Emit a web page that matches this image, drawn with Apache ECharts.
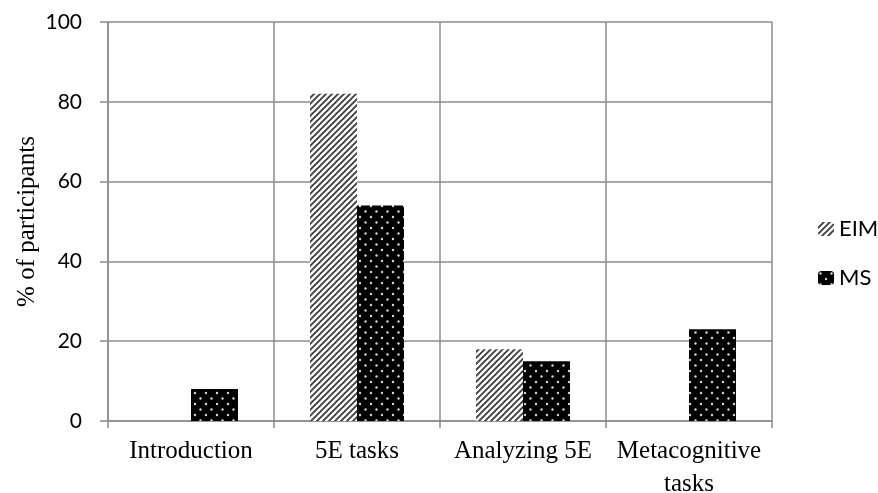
<!DOCTYPE html>
<html>
<head>
<meta charset="utf-8">
<script src="https://cdn.jsdelivr.net/npm/echarts@6/dist/echarts.min.js"></script>
<style>
  html, body { margin: 0; padding: 0; background: #fff; }
  #chart { width: 878px; height: 493px; }
</style>
</head>
<body>
<div id="chart"></div>
<script>
// Share of participants per course phase
const categories = ['Introduction', '5E tasks', 'Analyzing 5E', 'Metacognitive\ntasks'];
const eimValues = [0, 82, 18, 0];
const msValues = [8, 54, 15, 23];
const yTicks = { min: 0, max: 100, interval: 20 };

// Diagonal hatch fill
function hatchPattern() {
  const c = document.createElement('canvas');
  c.width = 6; c.height = 6;
  const g = c.getContext('2d');
  g.fillStyle = '#ffffff';
  g.fillRect(0, 0, 6, 6);
  g.strokeStyle = '#3a3a3a';
  g.lineWidth = 1.8;
  g.beginPath();
  g.moveTo(-1, 7); g.lineTo(7, -1);
  g.moveTo(-4, 4); g.lineTo(4, -4);
  g.moveTo(2, 10); g.lineTo(10, 2);
  g.stroke();
  return c;
}

// Black fill with staggered white dots
function dotPattern() {
  const c = document.createElement('canvas');
  c.width = 11; c.height = 11;
  const g = c.getContext('2d');
  g.fillStyle = '#000000';
  g.fillRect(0, 0, 11, 11);
  g.fillStyle = '#d8d8d8';
  g.beginPath(); g.arc(2.5, 2.5, 1.2, 0, Math.PI * 2); g.fill();
  g.beginPath(); g.arc(8, 8, 1.2, 0, Math.PI * 2); g.fill();
  return c;
}

const hatch = { image: hatchPattern(), repeat: 'repeat' };
const dots = { image: dotPattern(), repeat: 'repeat' };

const chart = echarts.init(document.getElementById('chart'), null, { renderer: 'canvas' });
const axisGray = '#8c8c8c';

chart.setOption({
  animation: false,
  backgroundColor: '#ffffff',
  grid: { left: 108, right: 106, top: 22, bottom: 72, containLabel: false, outerBoundsMode: 'none' },
  legend: {
    orient: 'vertical',
    left: 813,
    top: 213,
    itemGap: 27,
    itemWidth: 16,
    itemHeight: 14,
    textStyle: { fontFamily: 'Lato', fontSize: 22, color: '#000' },
    data: ['EIM', 'MS']
  },
  xAxis: {
    type: 'category',
    data: categories,
    boundaryGap: true,
    axisLine: { lineStyle: { color: axisGray, width: 1.5 } },
    axisTick: { show: true, length: 7, lineStyle: { color: axisGray, width: 1.5 } },
    splitLine: { show: true, lineStyle: { color: axisGray, width: 1.5 } },
    axisLabel: {
      fontFamily: 'Liberation Serif',
      fontSize: 25,
      color: '#000',
      margin: 14,
      lineHeight: 33,
      interval: 0
    }
  },
  yAxis: {
    type: 'value',
    min: yTicks.min,
    max: yTicks.max,
    interval: yTicks.interval,
    name: '% of participants',
    nameLocation: 'middle',
    nameGap: 68,
    nameMoveOverlap: false,
    nameTextStyle: { fontFamily: 'Liberation Serif', fontSize: 25, color: '#000' },
    axisLine: { show: true, lineStyle: { color: axisGray, width: 1.5 } },
    axisTick: { show: true, length: 8, lineStyle: { color: axisGray, width: 1.5 } },
    splitLine: { show: true, lineStyle: { color: axisGray, width: 1.5 } },
    axisLabel: { fontFamily: 'Lato', fontSize: 21, color: '#000', margin: 26 }
  },
  series: [
    {
      name: 'EIM',
      type: 'bar',
      data: eimValues,
      barWidth: 47,
      barGap: '0%',
      itemStyle: { color: hatch }
    },
    {
      name: 'MS',
      type: 'bar',
      data: msValues,
      barWidth: 47,
      barGap: '0%',
      itemStyle: { color: dots }
    }
  ]
});
</script>
</body>
</html>
